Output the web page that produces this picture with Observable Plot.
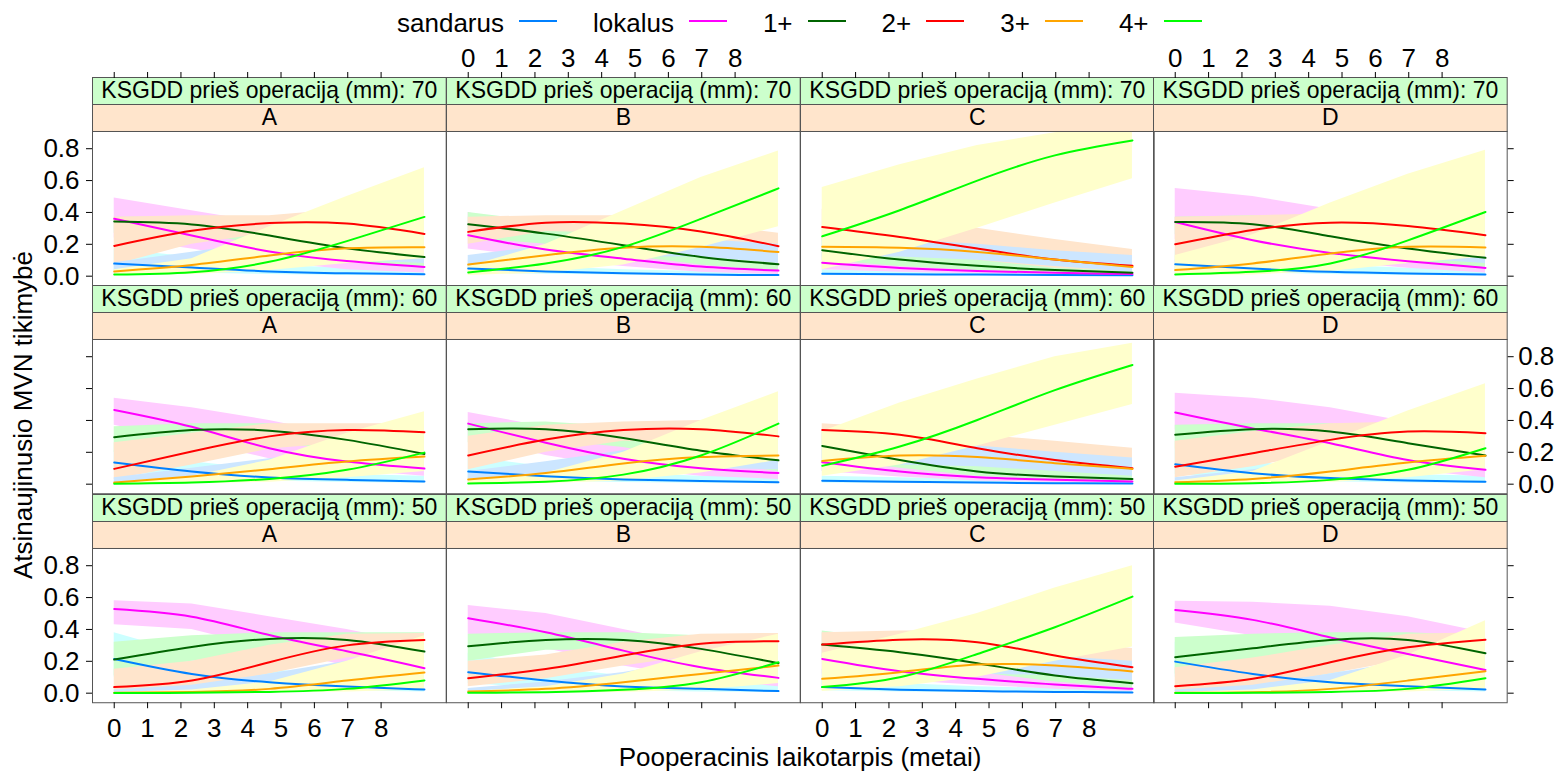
<!DOCTYPE html>
<html><head><meta charset="utf-8">
<script src="https://cdn.jsdelivr.net/npm/d3@7"></script>
<script src="https://cdn.jsdelivr.net/npm/@observablehq/plot@0.6"></script>
<style>
body{margin:0;background:#fff;}
#chart{position:relative;width:1560px;height:772px;font-family:"Liberation Sans",Arial,sans-serif;overflow:hidden;background:#fff;color:#000;}
.panel{position:absolute;}
#legend{position:absolute;left:397px;top:9px;display:flex;align-items:center;font-size:26px;line-height:28px;white-space:nowrap;}
#legend .ln{display:inline-block;width:38px;height:1.5px;margin:0 36px 0 15px;position:relative;top:-2px;}
#xlab{position:absolute;left:800px;top:757px;transform:translate(-50%,-50%);font-size:26px;white-space:nowrap;}
#ylab{position:absolute;left:23px;top:415px;transform:translate(-50%,-50%) rotate(-90deg);font-size:26px;white-space:nowrap;}
</style></head>
<body><div id="chart"><div id="legend"></div><div id="xlab">Pooperacinis laikotarpis (metai)</div><div id="ylab">Atsinaujinusio MVN tikimybė</div></div>
<script>
// ---- data ----
const times = [0, 2.325, 4.65, 6.975, 9.3];
const seriesNames = ["sandarus", "lokalus", "1+", "2+", "3+", "4+"];
const ksgddLevels = [70, 60, 50];           // rows, top to bottom
const groups = ["A", "B", "C", "D"];        // columns
const xTicks = [0, 1, 2, 3, 4, 5, 6, 7, 8];
const yTicks = [0, 0.2, 0.4, 0.6, 0.8];
// panel order: A70 B70 C70 D70 | A60 B60 C60 D60 | A50 B50 C50 D50
const sandarus_fit = [
  [0.079,0.055,0.03,0.018,0.012],[0.048,0.03,0.018,0.01,0.007],[0.015,0.012,0.01,0.008,0.006],[0.075,0.048,0.027,0.017,0.01],
  [0.136,0.08,0.042,0.027,0.017],[0.08,0.05,0.03,0.02,0.012],[0.021,0.015,0.01,0.006,0.004],[0.125,0.069,0.038,0.023,0.015],
  [0.215,0.121,0.069,0.042,0.023],[0.132,0.079,0.042,0.027,0.013],[0.038,0.021,0.013,0.008,0.005],[0.198,0.121,0.069,0.044,0.023]];
const sandarus_lo = [
  [0.03,0.02,0.01,0.005,0.003],[0.02,0.012,0.007,0.004,0.002],[0.005,0.004,0.003,0.002,0.001],[0.03,0.02,0.01,0.005,0.003],
  [0.08,0.04,0.02,0.01,0.006],[0.03,0.02,0.01,0.006,0.003],[0.007,0.005,0.003,0.002,0.001],[0.06,0.03,0.015,0.008,0.005],
  [0.1,0.06,0.03,0.015,0.008],[0.06,0.03,0.015,0.008,0.004],[0.015,0.008,0.004,0.002,0.001],[0.1,0.06,0.03,0.015,0.008]];
const sandarus_hi = [
  [0.17,0.12,0.07,0.05,0.05],[0.1,0.06,0.04,0.03,0.03],[0.04,0.03,0.03,0.03,0.03],[0.16,0.1,0.07,0.05,0.05],
  [0.21,0.14,0.09,0.06,0.05],[0.17,0.11,0.07,0.05,0.05],[0.05,0.04,0.03,0.03,0.02],[0.22,0.14,0.09,0.06,0.05],
  [0.38,0.24,0.15,0.1,0.08],[0.25,0.16,0.11,0.08,0.06],[0.09,0.06,0.04,0.03,0.03],[0.32,0.22,0.14,0.1,0.08]];
const lokalus_fit = [
  [0.36,0.255,0.155,0.095,0.058],[0.257,0.167,0.11,0.06,0.035],[0.084,0.052,0.033,0.021,0.013],[0.34,0.226,0.146,0.094,0.052],
  [0.466,0.36,0.226,0.142,0.098],[0.38,0.26,0.16,0.1,0.07],[0.138,0.08,0.044,0.027,0.017],[0.45,0.35,0.257,0.152,0.09],
  [0.528,0.48,0.365,0.263,0.157],[0.47,0.382,0.267,0.163,0.096],[0.215,0.138,0.09,0.054,0.027],[0.522,0.46,0.35,0.246,0.146]];
const lokalus_lo = [
  [0.24,0.17,0.09,0.04,0.02],[0.17,0.11,0.06,0.025,0.01],[0.04,0.025,0.015,0.008,0.004],[0.23,0.15,0.09,0.05,0.02],
  [0.37,0.27,0.16,0.09,0.05],[0.3,0.18,0.1,0.05,0.03],[0.08,0.045,0.02,0.01,0.005],[0.34,0.25,0.17,0.09,0.04],
  [0.43,0.4,0.28,0.17,0.08],[0.37,0.28,0.17,0.09,0.04],[0.12,0.08,0.05,0.025,0.01],[0.44,0.36,0.25,0.15,0.07]];
const lokalus_hi = [
  [0.49,0.41,0.33,0.24,0.15],[0.4,0.28,0.2,0.14,0.11],[0.15,0.1,0.07,0.05,0.04],[0.55,0.5,0.42,0.3,0.17],
  [0.54,0.48,0.4,0.3,0.22],[0.45,0.36,0.27,0.19,0.15],[0.22,0.14,0.09,0.06,0.05],[0.57,0.54,0.48,0.39,0.3],
  [0.58,0.56,0.48,0.4,0.3],[0.55,0.5,0.4,0.3,0.22],[0.38,0.26,0.17,0.11,0.08],[0.577,0.57,0.545,0.48,0.38]];
const plus1_fit = [
  [0.343,0.325,0.255,0.175,0.12],[0.326,0.267,0.194,0.121,0.075],[0.163,0.104,0.065,0.038,0.021],[0.34,0.326,0.25,0.173,0.115],
  [0.295,0.34,0.336,0.278,0.19],[0.345,0.345,0.29,0.21,0.15],[0.24,0.152,0.08,0.048,0.033],[0.31,0.345,0.33,0.257,0.18],
  [0.211,0.29,0.34,0.334,0.261],[0.295,0.334,0.334,0.278,0.188],[0.305,0.257,0.188,0.111,0.063],[0.226,0.282,0.334,0.334,0.25]];
const plus1_lo = [
  [0.27,0.27,0.19,0.1,0.05],[0.24,0.2,0.13,0.07,0.03],[0.1,0.06,0.035,0.015,0.007],[0.26,0.26,0.19,0.1,0.05],
  [0.2,0.28,0.27,0.2,0.1],[0.26,0.28,0.23,0.14,0.08],[0.16,0.1,0.05,0.025,0.012],[0.22,0.29,0.27,0.19,0.1],
  [0.11,0.2,0.27,0.27,0.16],[0.2,0.27,0.27,0.2,0.1],[0.22,0.19,0.13,0.07,0.03],[0.12,0.2,0.28,0.27,0.15]];
const plus1_hi = [
  [0.37,0.37,0.33,0.27,0.25],[0.4,0.34,0.27,0.2,0.16],[0.25,0.17,0.11,0.08,0.06],[0.37,0.38,0.33,0.27,0.24],
  [0.36,0.38,0.38,0.35,0.3],[0.38,0.39,0.36,0.3,0.27],[0.33,0.22,0.13,0.09,0.08],[0.37,0.38,0.38,0.34,0.3],
  [0.32,0.36,0.38,0.38,0.38],[0.37,0.38,0.38,0.36,0.33],[0.39,0.33,0.26,0.18,0.13],[0.35,0.37,0.38,0.38,0.36]];
const plus2_fit = [
  [0.19,0.285,0.333,0.33,0.265],[0.278,0.336,0.33,0.28,0.188],[0.309,0.246,0.173,0.104,0.065],[0.2,0.29,0.336,0.315,0.257],
  [0.096,0.205,0.3,0.34,0.326],[0.18,0.28,0.34,0.345,0.3],[0.34,0.31,0.226,0.152,0.1],[0.11,0.194,0.278,0.33,0.32],
  [0.038,0.079,0.194,0.3,0.334],[0.094,0.152,0.236,0.31,0.326],[0.305,0.336,0.32,0.236,0.163],[0.044,0.09,0.194,0.288,0.336]];
const plus2_lo = [
  [0.07,0.2,0.27,0.25,0.13],[0.2,0.28,0.27,0.2,0.12],[0.22,0.17,0.1,0.05,0.03],[0.09,0.2,0.27,0.23,0.13],
  [0.03,0.12,0.22,0.26,0.2],[0.09,0.2,0.27,0.26,0.18],[0.25,0.23,0.16,0.1,0.06],[0.04,0.11,0.2,0.25,0.2],
  [0.01,0.03,0.12,0.22,0.26],[0.04,0.09,0.17,0.24,0.25],[0.22,0.27,0.25,0.16,0.09],[0.01,0.04,0.12,0.21,0.26]];
const plus2_hi = [
  [0.37,0.38,0.38,0.42,0.45],[0.37,0.38,0.38,0.33,0.27],[0.42,0.34,0.3,0.23,0.167],[0.37,0.38,0.39,0.42,0.45],
  [0.26,0.32,0.38,0.38,0.38],[0.3,0.37,0.39,0.4,0.4],[0.38,0.35,0.31,0.27,0.226],[0.27,0.33,0.38,0.39,0.4],
  [0.15,0.2,0.3,0.37,0.375],[0.2,0.24,0.32,0.37,0.375],[0.38,0.39,0.39,0.33,0.28],[0.16,0.22,0.3,0.37,0.38]];
const plus3_fit = [
  [0.03,0.07,0.13,0.175,0.182],[0.073,0.132,0.178,0.184,0.152],[0.184,0.178,0.152,0.104,0.058],[0.038,0.08,0.142,0.184,0.18],
  [0.01,0.048,0.094,0.142,0.173],[0.03,0.07,0.13,0.17,0.18],[0.146,0.18,0.17,0.132,0.096],[0.012,0.033,0.08,0.136,0.178],
  [0.003,0.008,0.027,0.079,0.13],[0.01,0.027,0.069,0.121,0.173],[0.09,0.132,0.18,0.173,0.136],[0.002,0.006,0.027,0.079,0.138]];
const plus3_lo = [
  [0.01,0.03,0.07,0.1,0.08],[0.04,0.09,0.12,0.12,0.08],[0.12,0.12,0.1,0.06,0.025],[0.015,0.04,0.08,0.11,0.08],
  [0.003,0.02,0.05,0.08,0.09],[0.01,0.03,0.07,0.1,0.09],[0.08,0.12,0.11,0.08,0.05],[0.004,0.013,0.04,0.08,0.09],
  [0.0005,0.002,0.01,0.04,0.07],[0.003,0.01,0.035,0.07,0.1],[0.05,0.08,0.12,0.11,0.08],[0.0005,0.002,0.01,0.04,0.07]];
const plus3_hi = [
  [0.085,0.15,0.22,0.29,0.35],[0.13,0.19,0.24,0.23,0.2],[0.25,0.23,0.2,0.16,0.13],[0.1,0.16,0.23,0.29,0.35],
  [0.04,0.1,0.16,0.23,0.3],[0.08,0.14,0.21,0.27,0.32],[0.23,0.25,0.24,0.2,0.165],[0.04,0.09,0.16,0.24,0.32],
  [0.02,0.05,0.12,0.2,0.27],[0.03,0.07,0.13,0.21,0.3],[0.15,0.2,0.25,0.23,0.2],[0.02,0.05,0.12,0.2,0.28]];
const plus4_fit = [
  [0.01,0.025,0.09,0.22,0.372],[0.023,0.08,0.184,0.36,0.551],[0.25,0.414,0.6,0.758,0.852],[0.01,0.027,0.08,0.225,0.403],
  [0.003,0.01,0.033,0.09,0.198],[0.005,0.015,0.06,0.18,0.38],[0.115,0.236,0.403,0.59,0.748],[0.002,0.006,0.027,0.09,0.226],
  [0.001,0.002,0.008,0.027,0.08],[0.002,0.006,0.021,0.069,0.194],[0.038,0.1,0.246,0.414,0.606],[0.001,0.002,0.008,0.027,0.094]];
const plus4_lo = [
  [0.002,0.01,0.035,0.08,0.11],[0.005,0.02,0.07,0.18,0.31],[0.04,0.15,0.3,0.46,0.612],[0.002,0.008,0.03,0.08,0.12],
  [0.0005,0.003,0.012,0.04,0.08],[0.001,0.005,0.02,0.07,0.15],[0.05,0.12,0.24,0.37,0.5],[0.0005,0.002,0.01,0.04,0.09],
  [0.0001,0.0004,0.002,0.008,0.02],[0.0003,0.001,0.005,0.02,0.06],[0.01,0.04,0.1,0.2,0.29],[0.0001,0.0004,0.002,0.008,0.025]];
const plus4_hi = [
  [0.04,0.11,0.31,0.5,0.68],[0.06,0.2,0.41,0.62,0.785],[0.556,0.7,0.82,0.9,0.95],[0.13,0.26,0.46,0.64,0.79],
  [0.01,0.05,0.15,0.32,0.455],[0.03,0.07,0.2,0.4,0.58],[0.33,0.51,0.66,0.8,0.884],[0.02,0.08,0.27,0.46,0.63],
  [0.005,0.02,0.07,0.2,0.36],[0.01,0.04,0.12,0.26,0.37],[0.25,0.37,0.5,0.66,0.8],[0.005,0.02,0.08,0.24,0.455]];

// ---- styles ----
const lineColors = ["#0080ff", "#ff00ff", "#006400", "#ff0000", "#ffa500", "#00ff00"];
const bandColors = ["#ccffff", "#ffccff", "#ccffcc", "#ffe5cc", "#cce6ff", "#ffffcc"];
const fits = [sandarus_fit, lokalus_fit, plus1_fit, plus2_fit, plus3_fit, plus4_fit];
const los = [sandarus_lo, lokalus_lo, plus1_lo, plus2_lo, plus3_lo, plus4_lo];
const his = [sandarus_hi, lokalus_hi, plus1_hi, plus2_hi, plus3_hi, plus4_hi];

const chart = document.getElementById("chart");
const legend = document.getElementById("legend");
seriesNames.forEach((name, s) => {
  const t = document.createElement("span"); t.textContent = name; legend.appendChild(t);
  const l = document.createElement("span"); l.className = "ln"; l.style.background = lineColors[s];
  if (s === seriesNames.length - 1) l.style.marginRight = "0";
  legend.appendChild(l);
});

const LEFT0 = 92.3, COLW = 353.7, TOP0 = 77, ROWH = 208.25, STRIP = 27, PH = 154.25;
const xDomain = [-0.651, 9.951], yDomain = [-0.06, 0.908];
const fmt = d3.format(".1f");
const border = "#555";
const FS = 26;

ksgddLevels.forEach((k, r) => {
  groups.forEach((g, c) => {
    const p = r * 4 + c;
    const marks = [];
    marks.push(Plot.frame({fill: "#ccffcc", stroke: border, insetTop: -2 * STRIP, insetBottom: PH + STRIP}));
    marks.push(Plot.frame({fill: "#ffe5cc", stroke: border, insetTop: -STRIP, insetBottom: PH}));
    marks.push(Plot.text([`KSGDD prieš operaciją (mm): ${k}`], {text: d => d, frameAnchor: "top", lineAnchor: "middle", dy: -1.5 * STRIP, fontSize: 23}));
    marks.push(Plot.text([g], {text: d => d, frameAnchor: "top", lineAnchor: "middle", dy: -0.5 * STRIP, fontSize: 23}));
    seriesNames.forEach((name, s) => {
      const rows = times.map((t, i) => ({x: t, lo: los[s][p][i], hi: his[s][p][i]}));
      marks.push(Plot.areaY(rows, {x: "x", y1: "lo", y2: "hi", fill: bandColors[s], clip: true}));
    });
    seriesNames.forEach((name, s) => {
      const rows = times.map((t, i) => ({x: t, y: fits[s][p][i]}));
      marks.push(Plot.line(rows, {x: "x", y: "y", stroke: lineColors[s], strokeWidth: 2, curve: "natural", clip: true}));
    });
    marks.push(Plot.frame({stroke: border}));
    // axes (lattice alternating style)
    if (r === 0) marks.push(Plot.axisX({anchor: "top", ticks: xTicks, tickSize: 6, tickPadding: 5, dy: -2 * STRIP,
      tickFormat: (c % 2 === 1) ? d3.format("d") : () => "", fontSize: FS, label: null}));
    if (r === 2) marks.push(Plot.axisX({anchor: "bottom", ticks: xTicks, tickSize: 6, tickPadding: 10,
      tickFormat: (c % 2 === 0) ? d3.format("d") : () => "", fontSize: FS, label: null}));
    if (c === 0) marks.push(Plot.axisY({anchor: "left", ticks: yTicks, tickSize: 6, tickPadding: 7,
      tickFormat: (r % 2 === 0) ? fmt : () => "", fontSize: FS, label: null}));
    if (c === 3) marks.push(Plot.axisY({anchor: "right", ticks: yTicks, tickSize: 6, tickPadding: 5,
      tickFormat: (r % 2 === 1) ? fmt : () => "", fontSize: FS, label: null}));

    const svg = Plot.plot({
      width: COLW, height: 2 * STRIP + PH,
      marginTop: 2 * STRIP, marginBottom: 0, marginLeft: 0, marginRight: 0,
      x: {domain: xDomain, axis: null, label: null},
      y: {domain: yDomain, axis: null, label: null},
      style: {overflow: "visible", background: "transparent", fontFamily: "'Liberation Sans', Arial, sans-serif", fontSize: "26px", color: "#000"},
      marks
    });
    svg.classList.add("panel");
    svg.style.position = "absolute";
    svg.style.left = (LEFT0 + c * COLW) + "px";
    svg.style.top = (TOP0 + r * ROWH) + "px";
    chart.appendChild(svg);
  });
});
</script></body></html>
